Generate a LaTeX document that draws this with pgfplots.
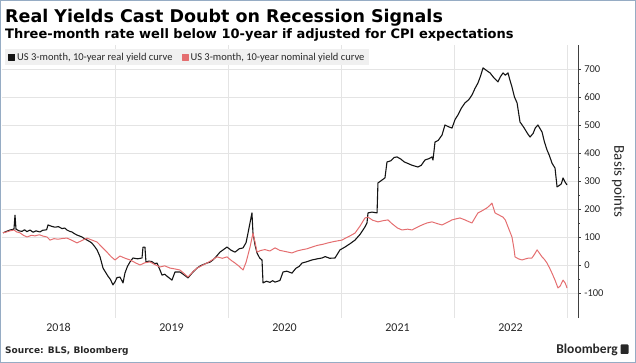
\documentclass[border=0pt]{standalone}
\usepackage{pgfplots}
\pgfplotsset{compat=1.18}
\usepackage{fontspec}
\setmainfont{DejaVu Sans}
\newfontfamily\carlito{Carlito}
\definecolor{realc}{RGB}{20,20,20}
\definecolor{nomc}{RGB}{228,110,112}
\definecolor{gridc}{RGB}{228,228,228}
\definecolor{framec}{RGB}{150,172,196}
\definecolor{txt}{RGB}{40,40,40}
\pgfplotstableread{
t v
2018.009 115
2018.040 120
2018.071 125
2018.106 128
2018.115 178
2018.124 128
2018.150 122
2018.177 120
2018.200 126
2018.220 119
2018.248 125
2018.275 117
2018.300 122
2018.336 118
2018.360 124
2018.381 125
2018.395 126
2018.407 143
2018.440 138
2018.469 135
2018.500 137
2018.531 130
2018.555 132
2018.575 125
2018.600 120
2018.619 118
2018.640 112
2018.664 107
2018.690 103
2018.708 100
2018.730 94
2018.752 89
2018.775 84
2018.796 78
2018.820 66
2018.841 54
2018.867 30
2018.894 -11
2018.915 -25
2018.938 -40
2018.960 -52
2018.982 -71
2019.000 -60
2019.018 -45
2019.044 -43
2019.071 -64
2019.088 -29
2019.110 -5
2019.133 11
2019.159 25
2019.200 22
2019.239 25
2019.248 64
2019.265 64
2019.274 11
2019.300 14
2019.327 12
2019.350 5
2019.372 7
2019.395 -15
2019.416 -36
2019.440 -33
2019.460 -40
2019.504 -54
2019.531 -25
2019.575 -25
2019.600 -32
2019.646 -46
2019.690 -25
2019.726 -11
2019.760 -2
2019.790 3
2019.814 7
2019.840 10
2019.867 18
2019.900 32
2019.929 46
2019.960 55
2019.991 64
2020.030 52
2020.062 46
2020.100 58
2020.133 61
2020.160 80
2020.177 114
2020.212 186
2020.221 114
2020.240 70
2020.257 43
2020.280 25
2020.301 18
2020.310 -64
2020.340 -58
2020.372 -62
2020.395 -56
2020.416 -61
2020.440 -58
2020.460 -55
2020.487 -25
2020.520 -22
2020.566 -29
2020.600 -12
2020.630 -5
2020.655 7
2020.700 12
2020.743 18
2020.790 22
2020.832 25
2020.860 30
2020.900 24
2020.947 25
2020.991 54
2021.035 64
2021.080 76
2021.124 89
2021.170 110
2021.212 136
2021.230 150
2021.239 186
2021.274 189
2021.319 186
2021.327 293
2021.389 311
2021.407 368
2021.440 372
2021.470 384
2021.496 386
2021.530 378
2021.560 368
2021.584 364
2021.630 356
2021.681 350
2021.710 356
2021.743 375
2021.780 380
2021.805 386
2021.814 375
2021.832 439
2021.860 445
2021.894 464
2021.920 500
2021.950 494
2021.982 489
2022.010 520
2022.035 536
2022.065 560
2022.097 579
2022.130 590
2022.159 607
2022.185 630
2022.212 650
2022.235 675
2022.257 704
2022.290 694
2022.319 686
2022.350 670
2022.389 654
2022.410 672
2022.434 686
2022.455 678
2022.478 686
2022.495 660
2022.513 636
2022.535 600
2022.558 579
2022.584 511
2022.620 490
2022.650 470
2022.673 457
2022.700 470
2022.720 490
2022.743 500
2022.760 488
2022.779 475
2022.800 440
2022.823 411
2022.845 390
2022.867 364
2022.894 346
2022.912 279
2022.935 285
2022.950 290
2022.965 311
2022.985 295
2023.000 286
}\realtab
\pgfplotstableread{
t v
2018.009 115
2018.040 118
2018.071 122
2018.106 125
2018.130 118
2018.159 115
2018.190 106
2018.221 100
2018.260 106
2018.292 104
2018.330 108
2018.365 103
2018.398 100
2018.425 89
2018.460 94
2018.496 92
2018.540 95
2018.575 96
2018.620 88
2018.664 79
2018.700 86
2018.752 96
2018.790 90
2018.841 82
2018.880 66
2018.929 46
2018.965 30
2019.000 18
2019.044 32
2019.090 24
2019.133 18
2019.180 8
2019.221 0
2019.265 8
2019.310 11
2019.350 2
2019.398 -7
2019.440 -3
2019.487 -11
2019.530 -14
2019.575 -18
2019.610 -30
2019.646 -43
2019.690 -24
2019.726 -11
2019.770 -2
2019.814 7
2019.860 18
2019.903 29
2019.950 24
2019.991 29
2020.030 16
2020.062 7
2020.100 -5
2020.133 -18
2020.160 10
2020.195 64
2020.221 114
2020.240 80
2020.257 46
2020.290 52
2020.327 55
2020.370 50
2020.416 61
2020.460 52
2020.510 48
2020.566 43
2020.610 50
2020.650 54
2020.700 58
2020.743 64
2020.790 70
2020.840 74
2020.885 79
2020.940 84
2021.009 89
2021.035 95
2021.080 104
2021.124 114
2021.170 140
2021.212 168
2021.239 171
2021.280 160
2021.327 154
2021.370 158
2021.416 161
2021.450 148
2021.500 132
2021.540 125
2021.590 128
2021.628 125
2021.670 134
2021.717 143
2021.760 150
2021.805 154
2021.850 148
2021.894 143
2021.940 152
2021.982 161
2022.020 165
2022.053 168
2022.097 161
2022.130 155
2022.159 150
2022.185 168
2022.212 186
2022.250 194
2022.292 204
2022.315 212
2022.336 221
2022.363 186
2022.400 178
2022.434 171
2022.455 160
2022.478 136
2022.513 100
2022.530 60
2022.540 29
2022.570 22
2022.602 18
2022.650 24
2022.690 25
2022.715 40
2022.735 54
2022.760 40
2022.779 29
2022.800 20
2022.823 7
2022.845 -10
2022.867 -29
2022.895 -55
2022.920 -82
2022.940 -75
2022.965 -54
2022.985 -65
2023.000 -82
}\nomtab
\begin{document}
\begin{tikzpicture}
\useasboundingbox (0pt,0pt) rectangle (636pt,363pt);
\draw[framec, line width=1.2pt] (0.8pt,0.8pt) rectangle (635.2pt,362.2pt);
\node[anchor=base west, inner sep=0pt, font=\bfseries\fontsize{17.5}{18}\selectfont, text=black] at (5pt,340pt) {Real Yields Cast Doubt on Recession Signals};
\node[anchor=base west, inner sep=0pt, font=\bfseries\fontsize{13}{14}\selectfont, text=black] at (5pt,324.5pt) {Three-month rate well below 10-year if adjusted for CPI expectations};
\node[anchor=base west, inner sep=0pt, font=\bfseries\fontsize{9}{10}\selectfont, text=txt] at (5pt,9pt) {Source: BLS, Bloomberg};
\node[anchor=base east, inner sep=0pt, font=\carlito\bfseries\fontsize{13.5}{14}\selectfont, text=txt] at (618pt,9pt) {Bloomberg};
\fill[txt, rounded corners=0.8pt] (620.5pt,9pt) rectangle (628.5pt,18.5pt);
\begin{axis}[
  at={(2pt,44.8pt)}, anchor=south west,
  scale only axis, width=576.3pt, height=273pt,
  xmin=2018, xmax=2023.1, ymin=-190, ymax=785,
  axis x line*=bottom, axis y line*=right,
  x axis line style={draw=none},
  y axis line style={draw=black!75, line width=0.8pt},
  xtick={2018.5,2019.5,2020.5,2021.5,2022.5},
  xticklabels={2018,2019,2020,2021,2022},
  x tick label style={font=\carlito\fontsize{12}{13}\selectfont, text=txt, yshift=1pt},
  major x tick style={draw=none},
  extra x ticks={2019,2020,2021,2022,2023},
  extra x tick labels={},
  extra x tick style={grid=major, major tick length=0pt},
  ytick={-100,0,...,700},
  minor y tick num=1,
  ymajorgrids,
  grid style={gridc, line width=0.7pt},
  tick align=outside,
  major tick length=2.5pt, minor tick length=1.5pt,
  y tick style={black!75, line width=0.6pt},
  /pgf/number format/assume math mode=true,
  y tick label style={font=\carlito\fontsize{10.5}{11}\selectfont, text=txt},
  ylabel={Basis points},
  ylabel style={font=\carlito\fontsize{15}{16}\selectfont, text=txt, rotate=180,
    at={(axis description cs:1.0694,0.5)}, anchor=center},
  legend columns=2,
  legend style={at={(0.005,1)}, anchor=north west, yshift=-4pt, fill=black!6, draw=none,
    font=\carlito\fontsize{10.5}{11}\selectfont, text=txt, inner xsep=3pt, inner ysep=1.5pt,
    /tikz/every even column/.append style={column sep=7pt}},
  legend image code/.code={\fill[#1] (0pt,-3pt) rectangle (6pt,3pt);},
  legend cell align=left,
  clip=false,
]
\addplot[color=realc, line width=1.1pt, line join=round] table[x=t,y=v] {\realtab};
\addplot[color=nomc, line width=1.0pt, line join=round] table[x=t,y=v] {\nomtab};
\legend{{US 3-month, 10-year real yield curve},{US 3-month, 10-year nominal yield curve}}
\end{axis}
\end{tikzpicture}
\end{document}
